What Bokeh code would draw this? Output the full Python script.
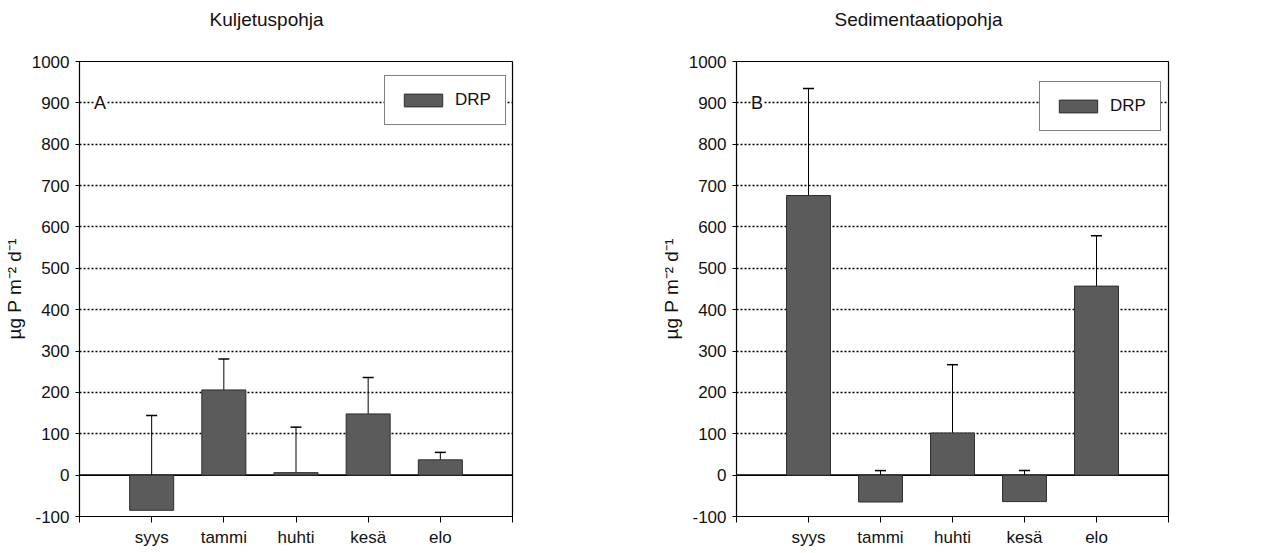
from bokeh.plotting import figure
from bokeh.layouts import row
from bokeh.models import (ColumnDataSource, FixedTicker, Range1d, Span, Label,
                          Legend, LegendItem)
from bokeh.embed import file_html
from bokeh.resources import INLINE

# ---- data ----
categories = ["syys", "tammi", "huhti", "kesä", "elo"]
titles = ["Kuljetuspohja", "Sedimentaatiopohja"]
panel_letters = ["A", "B"]
drp_a = [-85, 206, 6, 148, 37]
err_a = [229, 75, 110, 88, 18]
drp_b = [676, -65, 102, -64, 457]
err_b = [259, 76, 165, 75, 122]
y_ticks = [-100, 0, 100, 200, 300, 400, 500, 600, 700, 800, 900, 1000]
grid_ticks = [100, 200, 300, 400, 500, 600, 700, 800, 900]
y_label = "µg P m⁻² d⁻¹"
series_name = "DRP"

FONT = "Liberation Sans"
BAR_COLOR = "#5b5b5b"
TXT = "#111111"


def make_panel(title, letter, values, errors, width, border_left, border_right,
               title_offset, legend_loc):
    xs = list(range(1, len(categories) + 1))
    src = ColumnDataSource(dict(
        x=xs,
        top=values,
        etop=[v + e for v, e in zip(values, errors)],
    ))
    p = figure(width=width, height=553, output_backend="svg",
               toolbar_location=None, tools="",
               x_range=Range1d(0, 6), y_range=Range1d(-100, 1000),
               min_border_left=border_left, min_border_right=border_right,
               min_border_top=61, min_border_bottom=37)
    p.background_fill_color = "white"
    p.border_fill_color = "white"
    p.outline_line_color = "black"
    p.outline_line_width = 1.2

    # title (a blank second line lifts it away from the frame)
    p.title.text = title + "\n "
    p.title.align = "left"
    p.title.offset = title_offset
    p.title.text_font = FONT
    p.title.text_font_size = "19px"
    p.title.text_font_style = "normal"
    p.title.text_color = TXT
    p.title.text_line_height = 1.3
    p.title.standoff = 8

    # grid
    p.xgrid.visible = False
    p.ygrid.ticker = FixedTicker(ticks=grid_ticks)
    p.ygrid.grid_line_color = "black"
    p.ygrid.grid_line_dash = "2 2"
    p.ygrid.grid_line_width = 1.5

    zero = Span(location=0, dimension="width", line_color="black",
                line_width=1.6, level="underlay")
    p.add_layout(zero)

    # error bars (behind bars)
    p.segment(x0="x", y0="top", x1="x", y1="etop", source=src,
              line_color="black", line_width=1)
    p.dash(x="x", y="etop", source=src, size=11, line_color="black",
           line_width=1.5)

    bars = p.vbar(x="x", top="top", bottom=0, width=0.61, source=src,
                  fill_color=BAR_COLOR, line_color="#2e2e2e", line_width=1)

    # axes
    p.yaxis.ticker = FixedTicker(ticks=y_ticks)
    p.yaxis.major_label_overrides = {t: str(t) for t in y_ticks}
    p.yaxis.major_tick_out = 4
    p.yaxis.major_tick_in = 0
    p.yaxis.minor_tick_out = 0
    p.yaxis.minor_tick_in = 0
    p.yaxis.major_label_standoff = 6
    p.yaxis.axis_label = y_label
    p.yaxis.axis_label_standoff = 4
    p.yaxis.axis_label_text_font = FONT
    p.yaxis.axis_label_text_font_style = "normal"
    p.yaxis.axis_label_text_font_size = "19px"
    p.yaxis.axis_label_text_color = TXT
    p.yaxis.major_label_text_font = FONT
    p.yaxis.major_label_text_font_size = "17px"
    p.yaxis.major_label_text_color = TXT
    p.yaxis.axis_line_color = "black"
    p.yaxis.major_tick_line_color = "black"

    p.xaxis.ticker = FixedTicker(ticks=[0, 1, 2, 3, 4, 5, 6])
    overrides = {0: "", 6: ""}
    for i, c in enumerate(categories):
        overrides[i + 1] = c
    p.xaxis.major_label_overrides = overrides
    p.xaxis.major_tick_out = 6
    p.xaxis.major_tick_in = 0
    p.xaxis.minor_tick_out = 0
    p.xaxis.minor_tick_in = 0
    p.xaxis.major_label_standoff = 5
    p.xaxis.major_label_text_font = FONT
    p.xaxis.major_label_text_font_size = "17px"
    p.xaxis.major_label_text_color = TXT
    p.xaxis.axis_line_color = "black"
    p.xaxis.major_tick_line_color = "black"

    # panel letter
    p.add_layout(Label(x=0.2, y=900, text=letter, text_font=FONT,
                       text_font_size="18px", text_align="left",
                       text_baseline="alphabetic", text_color=TXT,
                       background_fill_color="white"))

    legend = Legend(items=[LegendItem(label=series_name, renderers=[bars])],
                    location=legend_loc, orientation="vertical")
    legend.border_line_color = "black"
    legend.border_line_width = 1.2
    legend.background_fill_color = "white"
    legend.background_fill_alpha = 1.0
    legend.label_text_font = FONT
    legend.label_text_font_size = "17px"
    legend.label_text_color = TXT
    legend.glyph_width = 48
    legend.glyph_height = 16
    legend.label_standoff = 8
    legend.padding = 14
    legend.margin = 0
    legend.spacing = 0
    p.add_layout(legend, "center")
    return p


p1 = make_panel(titles[0], panel_letters[0], drp_a, err_a, 643, 78, 131,
                130, (305, 391))
p2 = make_panel(titles[1], panel_letters[1], drp_b, err_b, 644, 93, 119,
                98, (303, 385))

layout = row(p1, p2)
open("out.html", "w").write(file_html(layout, INLINE))
